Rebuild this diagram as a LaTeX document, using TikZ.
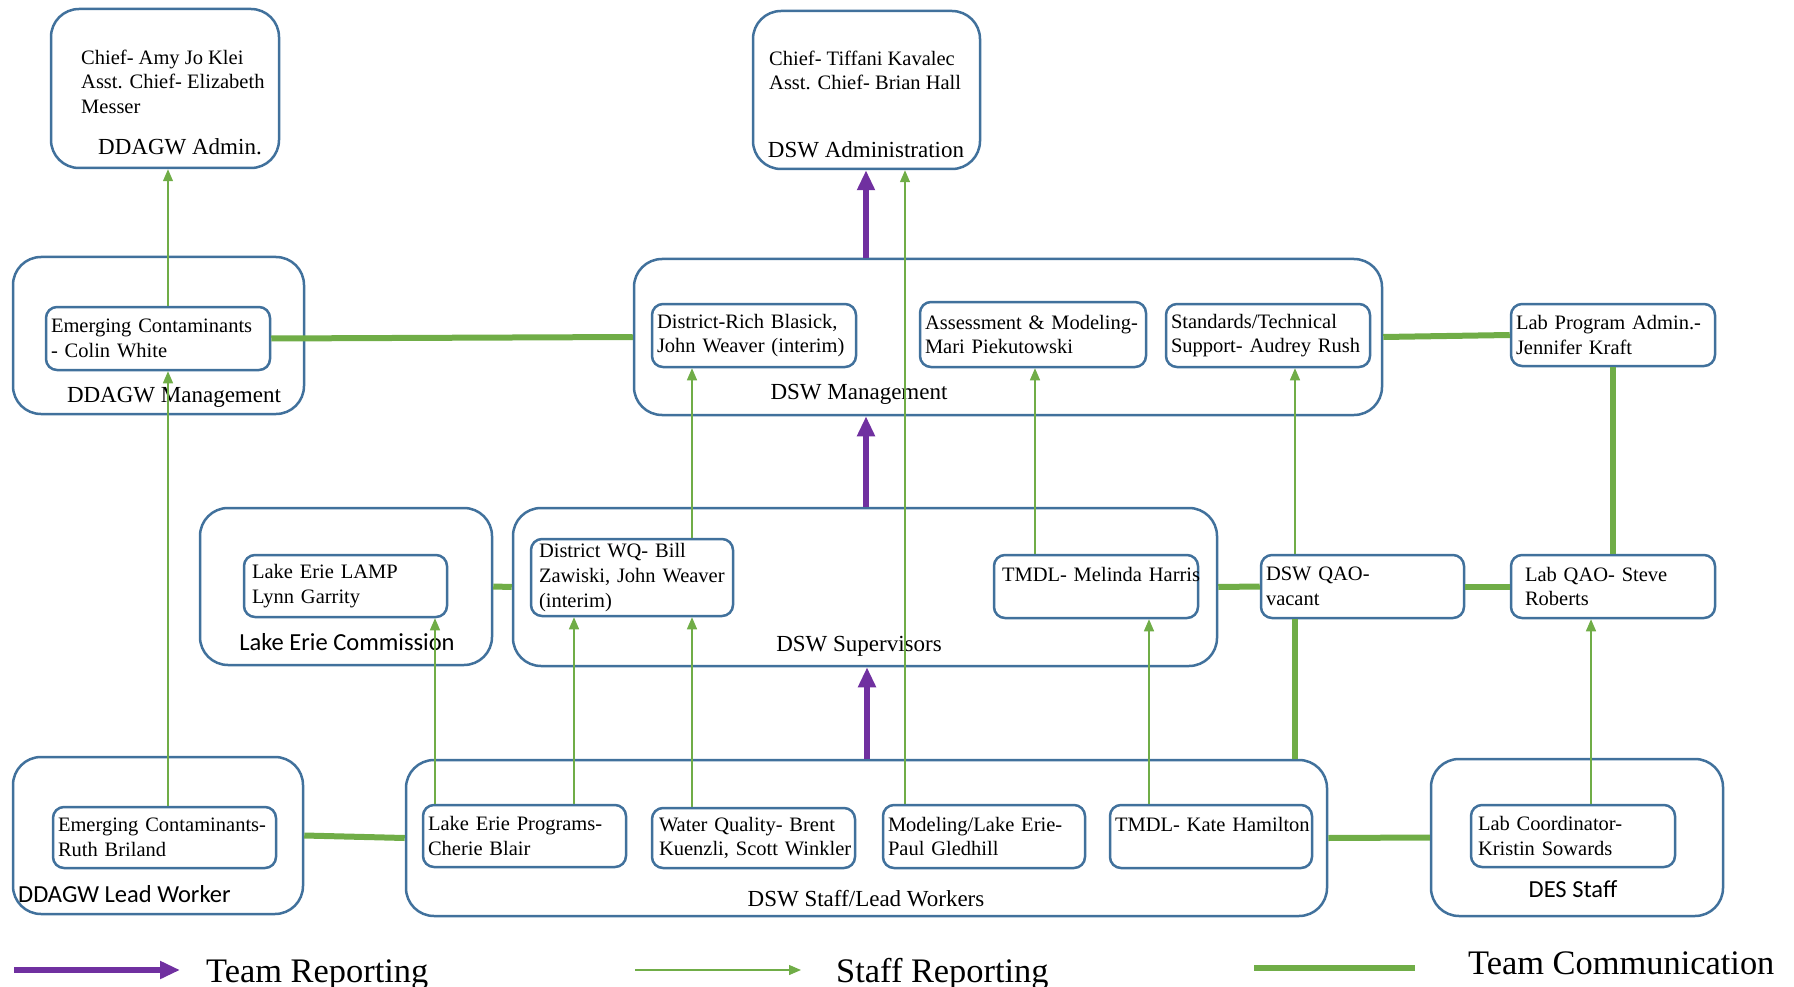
\documentclass[tikz,border=0pt]{standalone}
\usepackage{fontspec}
\setmainfont{Liberation Serif}
\newfontfamily\calibri{Carlito}
\usetikzlibrary{arrows.meta}
\definecolor{boxblue}{RGB}{65,113,156}
\definecolor{teampurple}{RGB}{112,48,160}
\definecolor{linkgreen}{RGB}{112,173,71}
\tikzset{
    box/.style={draw=boxblue,line width=2.5pt,fill=white},
    group/.style 2 args={box,rounded corners=28pt,minimum width=#1,minimum height=#2},
    unit/.style 2 args={box,rounded corners=11pt,align=left,inner xsep=5pt,inner ysep=0pt,text width=#1,minimum height=#2,
        font=\fontsize{20.5}{24.6}\selectfont,execute at begin node={\hyphenpenalty=10000\exhyphenpenalty=10000}},
    names/.style={align=left,inner sep=0pt,anchor=north west,font=\fontsize{20.5}{24.6}\selectfont},
    title/.style={inner sep=0pt,font=\fontsize{23}{27}\selectfont},
    stitle/.style={inner sep=0pt,font=\calibri\fontsize{24.5}{29}\selectfont},
    team/.style={teampurple,line width=6pt,-{Triangle[length=20pt,width=17pt]}},
    staff/.style={linkgreen,line width=1.3pt,-{Triangle[length=12pt,width=10pt]}},
    talk/.style={linkgreen,line width=6pt},
    legend/.style={inner sep=0pt,anchor=west,font=\fontsize{34.4}{41}\selectfont}
}

\begin{document}
\begin{tikzpicture}[x=1pt,y=-1pt]
  \useasboundingbox (0,0) rectangle (1794,987);

  % Groups
  \node[group={228pt}{159pt}] (ddagwadmin) at (165,88.5) {};
  \node[group={227pt}{158pt}] (dswadmin) at (866.5,90) {};
  \node[group={291pt}{157pt}] (ddagwmgmt) at (158.5,335.5) {};
  \node[group={748pt}{156pt}] (dswmgmt) at (1008,337) {};
  \node[group={292pt}{157pt}] (lec) at (346,586.5) {};
  \node[group={704pt}{158pt}] (dswsup) at (865,587) {};
  \node[group={290pt}{157pt}] (ddagwlead) at (158,835.5) {};
  \node[group={921pt}{156pt}] (dswstaff) at (866.5,838) {};
  \node[group={292pt}{157pt}] (des) at (1577,837.5) {};

  \node[names] (ddagwchiefs) at (81,49.5) {Chief- Amy Jo Klei\\Asst. Chief- Elizabeth\\Messer};
  \node[names] (dswchiefs) at (769,50.5) {Chief- Tiffani Kavalec\\Asst. Chief- Brian Hall};

  \node[title] (ddagwadminT) at (180,147) {DDAGW Admin.};
  \node[title] (dswadminT) at (866,150) {DSW Administration};
  \node[title] (ddagwmgmtT) at (174,397) {DDAGW Management};
  \node[title] (dswmgmtT) at (859,394.5) {DSW Management};
  \node[stitle] (lecT) at (347,642) {Lake Erie Commission};
  \node[title] (dswsupT) at (859,646.5) {DSW Supervisors};
  \node[stitle,anchor=west] (ddagwleadT) at (18,894) {DDAGW Lead Worker};
  \node[title] (dswstaffT) at (866,898.5) {DSW Staff/Lead Workers};
  \node[stitle] (desT) at (1573,889) {DES Staff};

  % Units
  \node[unit={214pt}{63pt}] (colin) at (158,338.5) {\mbox{Emerging Contaminants}\\- Colin White};
  \node[unit={194pt}{63pt}] (blasick) at (754,335.5) {District-Rich Blasick,\\\mbox{John Weaver (interim)}};
  \node[unit={216pt}{65pt}] (assess) at (1033,334.5) {\mbox{Assessment \& Modeling-}\\Mari Piekutowski};
  \node[unit={194pt}{63pt}] (standards) at (1268,335.5) {Standards/Technical\\\mbox{Support- Audrey Rush}};
  \node[unit={194pt}{62pt}] (labadmin) at (1613,335) {Lab Program Admin.-\\Jennifer Kraft};
  \node[unit={193pt}{62pt}] (lamp) at (345.5,586) {\hspace*{3pt}Lake Erie LAMP\\\hspace*{3pt}Lynn Garrity};
  \node[unit={192pt}{77pt}] (districtwq) at (632,577.5) {\hspace*{3pt}District WQ- Bill\\\hspace*{3pt}\mbox{Zawiski, John Weaver}\\\hspace*{3pt}(interim)};
  \node[unit={194pt}{63pt}] (melinda) at (1096,586.5) {\hspace*{3pt}\mbox{TMDL- Melinda Harris}\\\mbox{}};
  \node[unit={193pt}{63pt}] (qao) at (1362.5,586.5) {DSW QAO-\\vacant};
  \node[unit={194pt}{63pt}] (labqao) at (1613,586.5) {\hspace*{9pt}Lab QAO- Steve\\\hspace*{9pt}Roberts};
  \node[unit={213pt}{61pt}] (ruth) at (164.5,837.5) {\mbox{Emerging Contaminants-}\\Ruth Briland};
  \node[unit={193pt}{62pt}] (lakeprog) at (524.5,836) {Lake Erie Programs-\\Cherie Blair};
  \node[unit={193pt}{60pt}] (wq) at (753.5,838) {\hspace*{2pt}Water Quality- Brent\\\hspace*{2pt}\mbox{Kuenzli, Scott Winkler}};
  \node[unit={192pt}{63pt}] (modeling) at (984,836.5) {Modeling/Lake Erie-\\Paul Gledhill};
  \node[unit={192pt}{63pt}] (kate) at (1211,836.5) {\mbox{TMDL- Kate Hamilton}\\\mbox{}};
  \node[unit={194pt}{62pt}] (labcoord) at (1573,836) {\hspace*{2pt}Lab Coordinator-\\\hspace*{2pt}Kristin Sowards};

  % Team reporting
  \draw[team] (dswmgmt.north -| 866,0) -- (dswadmin.south -| 866,0);
  \draw[team] (dswsup.north -| 866,0) -- (dswmgmt.south -| 866,0);
  \draw[team] (dswstaff.north -| 867,0) -- (dswsup.south -| 867,0);

  % Staff reporting
  \draw[staff] (colin.north -| 168,0) -- (ddagwadmin.south -| 168,0);
  \draw[staff] (ruth.north -| 168,0) -- (colin.south -| 168,0);
  \draw[staff] (modeling.north -| 905,0) -- (dswadmin.south -| 905,0);
  \draw[staff] (districtwq.north -| 692,0) -- (blasick.south -| 692,0);
  \draw[staff] (melinda.north -| 1035,0) -- (assess.south -| 1035,0);
  \draw[staff] (qao.north -| 1295,0) -- (standards.south -| 1295,0);
  \draw[staff] (lakeprog.north -| 435,0) -- (lamp.south -| 435,0);
  \draw[staff] (lakeprog.north -| 574,0) -- (districtwq.south -| 574,0);
  \draw[staff] (wq.north -| 692,0) -- (districtwq.south -| 692,0);
  \draw[staff] (kate.north -| 1149,0) -- (melinda.south -| 1149,0);
  \draw[staff] (labcoord.north -| 1591,0) -- (labqao.south -| 1591,0);

  % Team communication
  \draw[talk] (colin.east) -- (dswmgmt.west);
  \draw[talk] (dswmgmt.east) -- (labadmin.west);
  \draw[talk] (labadmin.south) -- (labqao.north);
  \draw[talk] (lec.east) -- (dswsup.west);
  \draw[talk] (dswsup.east) -- (qao.west);
  \draw[talk] (qao.east) -- (labqao.west);
  \draw[talk] (qao.south -| 1295,0) -- (dswstaff.north -| 1295,0);
  \draw[talk] (ddagwlead.east) -- (dswstaff.west);
  \draw[talk] (dswstaff.east) -- (des.west);

  % Legend
  \coordinate (tr0) at (14,970);
  \coordinate (tr1) at (180,970);
  \draw[team] (tr0) -- (tr1);
  \node[legend] (trtext) at (206,974.5) {Team Reporting};
  \coordinate (sr0) at (635,970);
  \coordinate (sr1) at (801,970);
  \draw[staff] (sr0) -- (sr1);
  \node[legend] (srtext) at (836,974.5) {Staff Reporting};
  \coordinate (tc0) at (1254,968);
  \coordinate (tc1) at (1415,968);
  \draw[talk] (tc0) -- (tc1);
  \node[legend] (tctext) at (1468,963.5) {Team Communication};
\end{tikzpicture}
\end{document}
